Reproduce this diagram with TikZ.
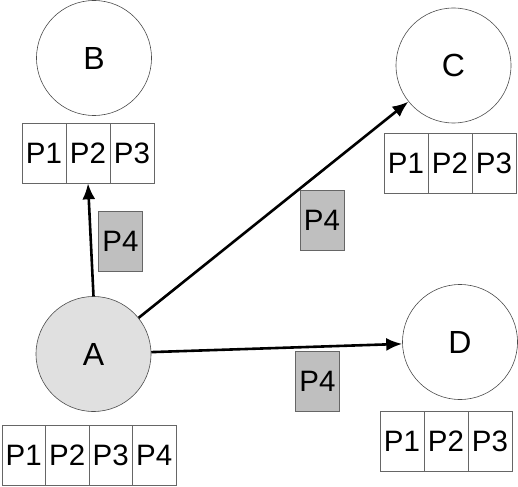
\documentclass[tikz,border=0pt]{standalone}
\usepackage{fontspec}
\setmainfont{Liberation Sans}
\usetikzlibrary{arrows.meta}
\begin{document}
\begin{tikzpicture}[
            x=1pt, y=-1pt,
            pp site/.style  ={draw=black!70, line width=0.6pt, shape=circle, minimum size=115pt,
                              inner sep=0pt, font=\fontsize{32}{32}\selectfont},
            pp cell/.style  ={draw=black!60, line width=0.6pt, minimum width=44pt, minimum height=60pt,
                              inner sep=0pt, font=\fontsize{29.5}{29.5}\selectfont},
            pp piece/.style ={pp cell, fill=black!25},
            pp move/.style  ={line width=2.6pt, -{Latex[length=16pt,width=13pt]}}
        ]
        \useasboundingbox (0,0) rectangle (518,486);
        %% --- the four sites ---------------------------------------------------
        \node[pp site, fill=black!12] (A) at (93.5,354)  {A};
        \node[pp site]                (B) at (94,58)     {B};
        \node[pp site]                (C) at (453.5,65.5) {C};
        \node[pp site]                (D) at (460,342)   {D};
        %% --- the pieces each site holds ---------------------------------------
        \foreach \i [count=\k] in {0,...,3} {
                \node[pp cell, minimum width=43.5pt] (Ap\k) at ({23.75+\i*43.5},455) {P\k};
            }
        \foreach \i [count=\k] in {0,1,2} {
                \node[pp cell] (Bp\k) at ({44+\i*44},153)   {P\k};
                \node[pp cell] (Cp\k) at ({406+\i*44},163.5) {P\k};
                \node[pp cell] (Dp\k) at ({402+\i*44},441)   {P\k};
            }
        %% --- piece P4 on its way ----------------------------------------------
        \node[pp piece] (toB) at (120.5,241.5) {P4};
        \node[pp piece] (toC) at (322,220.5)   {P4};
        \node[pp piece] (toD) at (317.5,381.5) {P4};
        \draw[pp move] (A.north) -- (Bp2.south);
        \draw[pp move] (A) -- (C);
        \draw[pp move] (A) -- (D);
    \end{tikzpicture}
\end{document}
